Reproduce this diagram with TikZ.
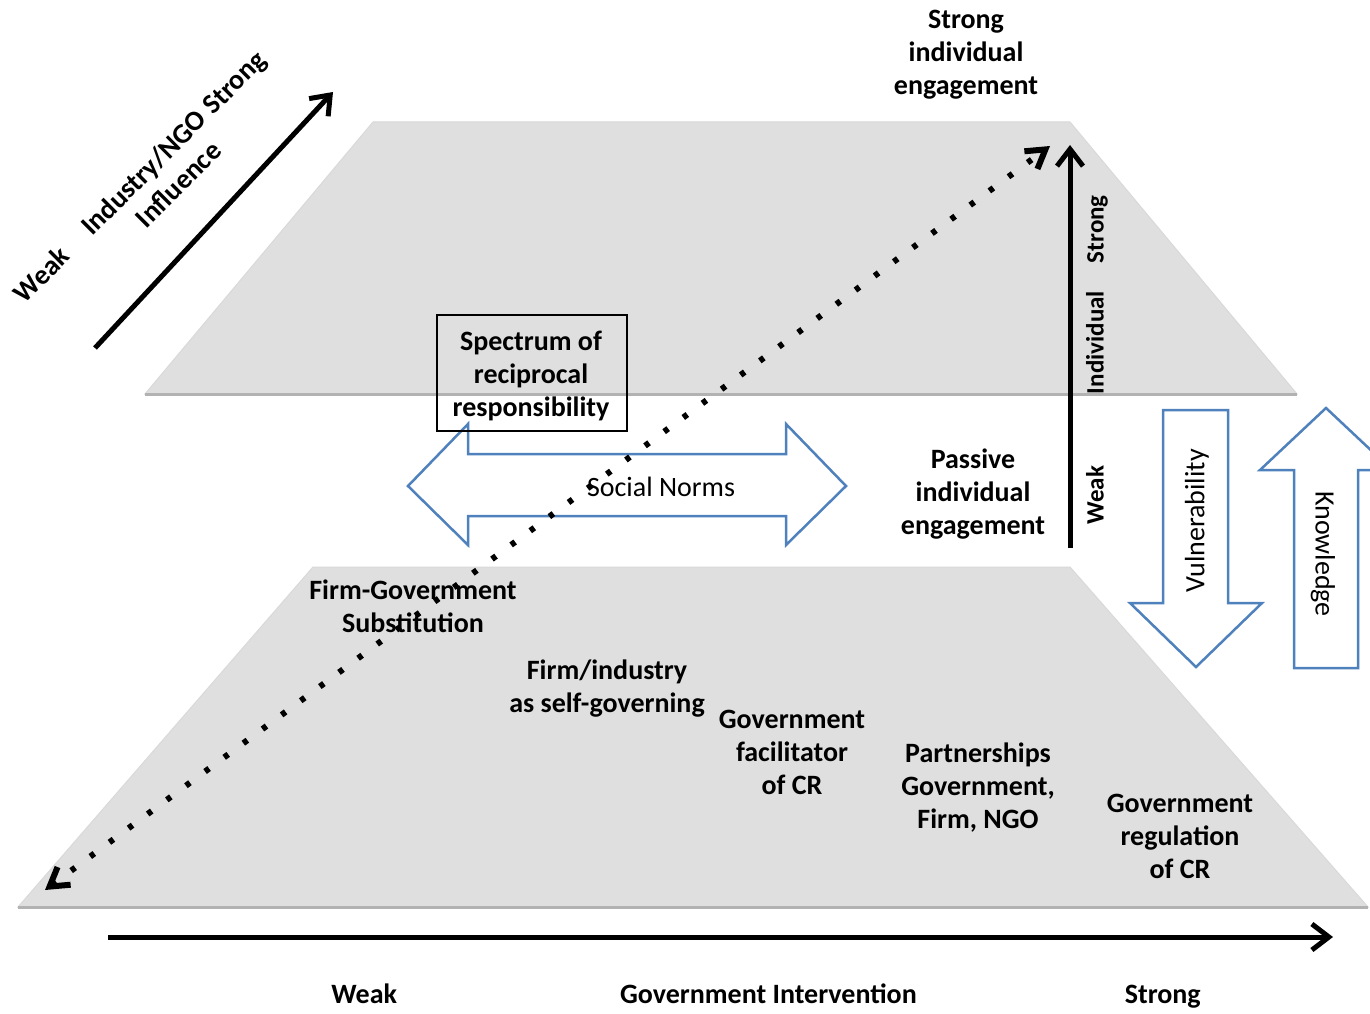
\documentclass[tikz,border=0pt]{standalone}
\usepackage{fontspec}
\setmainfont{Carlito}
\usetikzlibrary{arrows.meta}
\definecolor{normblue}{HTML}{4F81BD}
\begin{document}
\begin{tikzpicture}[x=1pt,y=-1pt,
		every node/.style={inner sep=0pt},
		layer/.style={fill=gray!25,draw=gray!30,line width=1pt},
		rim/.style={draw=gray!60,line width=3pt},
		blockarrow/.style={draw=normblue,fill=white,line width=2.5pt,line join=miter},
		axis/.style={line width=5pt,-{Straight Barb[length=17pt,width=26pt]}},
		dotaxis/.style={line width=6pt,dash pattern=on 5pt off 18.8pt,
			{Straight Barb[length=18pt,width=22pt]}-{Straight Barb[length=18pt,width=22pt]}},
		bold/.style={font=\bfseries\fontsize{28}{33}\selectfont,align=center},
		thin/.style={font=\fontsize{28}{33}\selectfont}]
		\clip (0,0) rectangle (1370,1014);
		\fill [white] (0,0) rectangle (1370,1014);
		\draw [layer] (373,122) -- (1070,122) -- (1297,394) -- (145,394) -- cycle;
		\draw [rim] (145,394) -- (1297,394);
		\draw [layer] (313,567) -- (1070,567) -- (1368,907) -- (18,907) -- cycle;
		\draw [rim] (18,907) -- (1368,907);
		\draw [blockarrow] (408,486) -- (468,424) -- (468,454) -- (786,454) -- (786,424) -- (846,486)
			-- (786,545) -- (786,516) -- (468,516) -- (468,545) -- cycle;
		\draw [blockarrow] (1163,410) -- (1228,410) -- (1228,603) -- (1262,603) -- (1196,667)
			-- (1130,603) -- (1163,603) -- cycle;
		\draw [blockarrow] (1326,408) -- (1392,470) -- (1358,470) -- (1358,668) -- (1294,668)
			-- (1294,470) -- (1260,470) -- cycle;
		\node [draw,line width=2pt,minimum width=190pt,minimum height=116pt] (spectrum) at (532,373) {};
		\node [bold] (spectrumtxt) at (531,376) {Spectrum of\\reciprocal\\responsibility};
		\node [thin] (norms) at (661,487) {Social Norms};
		\node [thin,rotate=90] (vulner) at (1197,521) {Vulnerability};
		\node [thin,rotate=-90] (knowl) at (1323,554) {Knowledge};
		\node [bold] (strongeng) at (966,55) {Strong\\individual\\engagement};
		\node [bold] (passiveeng) at (973,494) {Passive\\individual\\engagement};
		\node [bold,font=\bfseries\fontsize{25}{30}\selectfont,rotate=90] (indaxis) at (1097,360)
			{Weak\hspace{72pt}Individual\hspace{28pt}Strong};
		\node [bold,rotate=45] (ngoaxis) at (151,188) {Weak\hspace{30pt}Industry/NGO\hspace{8pt}Strong\\\hspace*{44pt}Influence};
		\node [bold] (substit) at (413,606) {Firm-Government\\Substitution};
		\node [bold] (selfgov) at (607,689) {Firm/industry\\as self-governing};
		\node [bold] (facil) at (792,752) {Government\\facilitator\\of CR};
		\node [bold] (partner) at (978,788) {Partnerships\\Government,\\Firm, NGO};
		\node [bold] (regul) at (1180,836) {Government\\regulation\\of CR};
		\node [bold] (govaxis) at (766,996) {Weak\hspace{223pt}Government Intervention\hspace{208pt}Strong};
		\coordinate (dotlo) at (45,890);
		\coordinate (dothi) at (1050,146);
		\coordinate (indlo) at (1070,548);
		\coordinate (indhi) at (1070,145);
		\coordinate (govlo) at (108,937);
		\coordinate (govhi) at (1333,937);
		\coordinate (ngolo) at (95,348);
		\coordinate (ngohi) at (333,92);
		\draw [dotaxis] (dotlo) -- (dothi);
		\draw [axis] (indlo) -- (indhi);
		\draw [axis] (govlo) -- (govhi);
		\draw [axis] (ngolo) -- (ngohi);
	\end{tikzpicture}
\end{document}
